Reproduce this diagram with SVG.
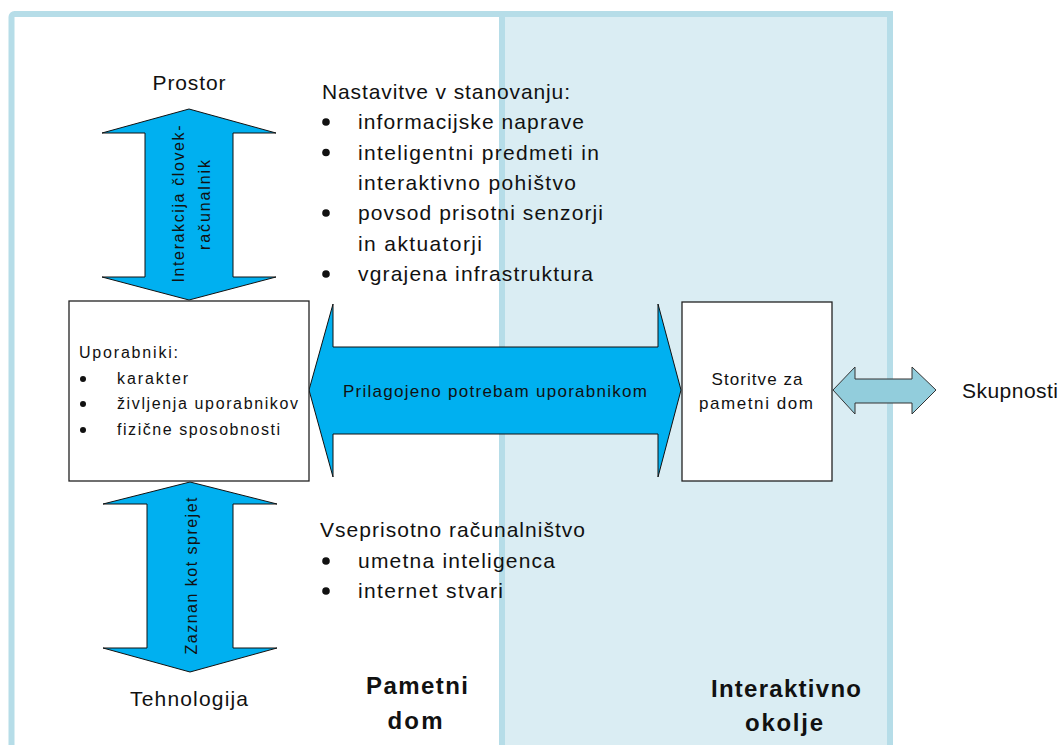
<svg xmlns="http://www.w3.org/2000/svg" width="1063" height="745" viewBox="0 0 1063 745">
  <defs>
    <style>
      .t { font-family: "Liberation Sans", Arial, sans-serif; fill: #111; }
      .lg { font-size: 21px; }
      .md { font-size: 17px; }
      .sm { font-size: 16px; }
      .bd { font-size: 24px; font-weight: bold; }
      .mid { text-anchor: middle; }
      .big-arrow { fill: #00b0f0; stroke: #111; stroke-width: 1; stroke-linejoin: miter; }
      .small-arrow { fill: #92cddc; stroke: #333; stroke-width: 1; }
      .box { fill: #ffffff; stroke: #222; stroke-width: 1.3; }
      .dot { fill: #111; }
    </style>
  </defs>

  <rect x="0" y="0" width="1063" height="745" fill="#ffffff"/>

  <!-- outer frame: smart home -->
  <g id="smart-home-frame">
    <rect x="11.5" y="14" width="878.5" height="760" rx="3" fill="#ffffff" stroke="#b6dde8" stroke-width="6"/>
  </g>

  <!-- interactive environment panel -->
  <g id="interactive-env-panel">
    <rect x="502" y="14" width="388" height="760" fill="#daedf3" stroke="#b6dde8" stroke-width="6"/>
  </g>

  <!-- connectors -->
  <g id="connectors">
    <polygon class="big-arrow" points="189,109 276,133 233,133 233,277 276,277 189,300 102,277 145,277 145,133 102,133"/>
    <text class="t sm mid" transform="translate(184,204) rotate(-90)" textLength="157" lengthAdjust="spacing">Interakcija človek-</text>
    <text class="t sm mid" transform="translate(210,205) rotate(-90)" textLength="90" lengthAdjust="spacing">računalnik</text>

    <polygon class="big-arrow" points="190,482 277,504 233,504 233,648 277,648 190,672 103,648 147,648 147,504 103,504"/>
    <text class="t sm mid" transform="translate(197,576) rotate(-90)" textLength="157" lengthAdjust="spacing">Zaznan kot sprejet</text>

    <polygon class="big-arrow" points="309,390 333,304 333,347 658,347 658,304 681,390 658,477 658,434 333,434 333,477"/>
    <text class="t md mid" x="495" y="397" textLength="304" lengthAdjust="spacing">Prilagojeno potrebam uporabnikom</text>

    <polygon class="small-arrow" points="833,390 855,367 855,379 912,379 912,367 936,390 912,414 912,403 855,403 855,414"/>
  </g>

  <!-- space -->
  <g id="node-space">
    <text class="t lg mid" x="189" y="90" textLength="73" lengthAdjust="spacing">Prostor</text>
  </g>

  <!-- technology -->
  <g id="node-technology">
    <text class="t lg mid" x="189" y="706" textLength="118" lengthAdjust="spacing">Tehnologija</text>
  </g>

  <!-- home settings list -->
  <g id="node-home-settings">
    <text class="t lg" x="322" y="99" textLength="248" lengthAdjust="spacing">Nastavitve v stanovanju:</text>
    <circle class="dot" cx="326" cy="122" r="3.8"/>
    <text class="t lg" x="358" y="129" textLength="226" lengthAdjust="spacing">informacijske naprave</text>
    <circle class="dot" cx="326" cy="152.5" r="3.8"/>
    <text class="t lg" x="358" y="159.5" textLength="241" lengthAdjust="spacing">inteligentni predmeti in</text>
    <text class="t lg" x="358" y="190" textLength="218" lengthAdjust="spacing">interaktivno pohištvo</text>
    <circle class="dot" cx="326" cy="213" r="3.8"/>
    <text class="t lg" x="358" y="220" textLength="245" lengthAdjust="spacing">povsod prisotni senzorji</text>
    <text class="t lg" x="358" y="250.5" textLength="124" lengthAdjust="spacing">in aktuatorji</text>
    <circle class="dot" cx="326" cy="274" r="3.8"/>
    <text class="t lg" x="358" y="281" textLength="235" lengthAdjust="spacing">vgrajena infrastruktura</text>
  </g>

  <!-- ubiquitous computing list -->
  <g id="node-ubiquitous">
    <text class="t lg" x="320" y="537" textLength="265" lengthAdjust="spacing">Vseprisotno računalništvo</text>
    <circle class="dot" cx="326" cy="561" r="3.8"/>
    <text class="t lg" x="358" y="568" textLength="197" lengthAdjust="spacing">umetna inteligenca</text>
    <circle class="dot" cx="326" cy="591" r="3.8"/>
    <text class="t lg" x="358" y="598" textLength="145" lengthAdjust="spacing">internet stvari</text>
  </g>

  <!-- users box -->
  <g id="node-users">
    <rect class="box" x="69" y="301" width="240" height="180"/>
    <text class="t sm" x="79" y="358" textLength="99" lengthAdjust="spacing">Uporabniki:</text>
    <circle class="dot" cx="83" cy="379" r="3"/>
    <text class="t sm" x="117" y="384" textLength="71" lengthAdjust="spacing">karakter</text>
    <circle class="dot" cx="83" cy="404" r="3"/>
    <text class="t sm" x="117" y="409" textLength="181" lengthAdjust="spacing">življenja uporabnikov</text>
    <circle class="dot" cx="83" cy="430" r="3"/>
    <text class="t sm" x="117" y="435" textLength="163" lengthAdjust="spacing">fizične sposobnosti</text>
  </g>

  <!-- services box -->
  <g id="node-services">
    <rect class="box" x="682" y="302" width="150" height="179"/>
    <text class="t md mid" x="757" y="385" textLength="91" lengthAdjust="spacing">Storitve za</text>
    <text class="t md mid" x="756" y="409" textLength="114" lengthAdjust="spacing">pametni dom</text>
  </g>

  <!-- communities -->
  <g id="node-communities">
    <text class="t lg" x="962" y="398" textLength="96" lengthAdjust="spacing">Skupnosti</text>
  </g>

  <!-- region titles -->
  <g id="label-smart-home">
    <text class="t bd mid" x="417" y="694" textLength="102" lengthAdjust="spacing">Pametni</text>
    <text class="t bd mid" x="415" y="729" textLength="55" lengthAdjust="spacing">dom</text>
  </g>
  <g id="label-interactive-env">
    <text class="t bd mid" x="786" y="697" textLength="150" lengthAdjust="spacing">Interaktivno</text>
    <text class="t bd mid" x="784" y="731" textLength="78" lengthAdjust="spacing">okolje</text>
  </g>
</svg>
